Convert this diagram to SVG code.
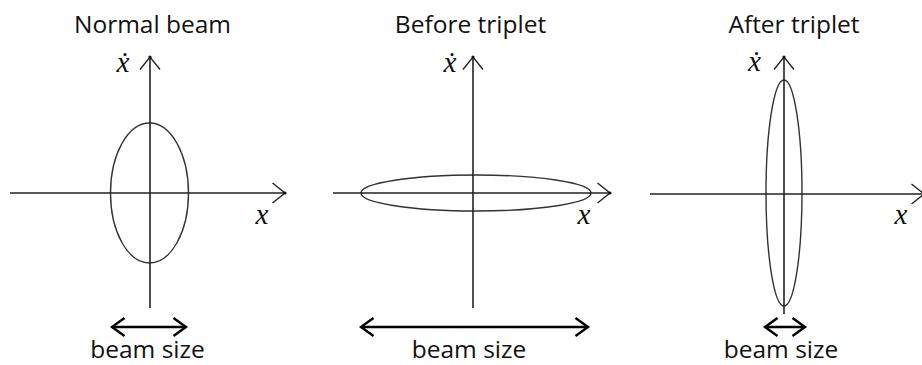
<svg xmlns="http://www.w3.org/2000/svg" width="922" height="365" viewBox="0 0 922 365">
  <style>
    .title { font-family: "Open Sans", "Liberation Sans", sans-serif; font-size: 24.5px; fill: #111; text-anchor: middle; }
    .var { font-family: "Liberation Serif", "DejaVu Serif", serif; font-style: italic; font-size: 29px; fill: #111; text-anchor: middle; }
    .axis { stroke: #222; stroke-width: 1.6; fill: none; marker-end: url(#axisHead); }
    .ell { stroke: #333; stroke-width: 1.4; fill: none; }
    .size { stroke: #000; stroke-width: 2.4; fill: none; marker-start: url(#sizeHead); marker-end: url(#sizeHead); }
  </style>
  <defs>
    <marker id="axisHead" markerUnits="userSpaceOnUse" markerWidth="40" markerHeight="40" refX="0" refY="0" orient="auto" overflow="visible">
      <path d="M-12.5,-10 L0,0 L-12.5,10" fill="none" stroke="#222" stroke-width="1.4"/>
      <circle cx="0" cy="0" r="1.6" fill="#111"/>
    </marker>
    <marker id="sizeHead" markerUnits="userSpaceOnUse" markerWidth="40" markerHeight="40" refX="0" refY="0" orient="auto-start-reverse" overflow="visible">
      <path d="M-12.5,-9 L0,0 L-12.5,9" fill="none" stroke="#000" stroke-width="2.4"/>
    </marker>
  </defs>
  <rect width="922" height="365" fill="#fff"/>

  <g id="normal-beam">
    <text class="title" x="152.5" y="33">Normal beam</text>
    <ellipse class="ell" cx="149.5" cy="193" rx="39" ry="70"/>
    <text class="var" x="123" y="72">ẋ</text>
    <text class="var" x="262" y="224">x</text>
    <text class="title" x="147.5" y="358">beam size</text>
  </g>

  <g id="before-triplet">
    <text class="title" x="470.5" y="33">Before triplet</text>
    <ellipse class="ell" cx="476" cy="193" rx="115" ry="18"/>
    <text class="var" x="450" y="72">ẋ</text>
    <text class="var" x="584" y="224">x</text>
    <text class="title" x="469" y="358">beam size</text>
  </g>

  <g id="after-triplet">
    <text class="title" x="794" y="33">After triplet</text>
    <ellipse class="ell" cx="784" cy="193" rx="18" ry="113"/>
    <text class="var" x="754.5" y="71">ẋ</text>
    <text class="var" x="901" y="224">x</text>
    <text class="title" x="781" y="358">beam size</text>
  </g>

  <g id="connectors">
    <line class="axis" x1="150" y1="308" x2="150" y2="57"/>
    <line class="axis" x1="10" y1="193" x2="285" y2="193"/>
    <line class="size" x1="112" y1="327" x2="186" y2="327"/>

    <line class="axis" x1="473" y1="308" x2="473" y2="57"/>
    <line class="axis" x1="333" y1="193" x2="610" y2="193"/>
    <line class="size" x1="361" y1="327" x2="588" y2="327"/>

    <line class="axis" x1="784" y1="314" x2="784" y2="57"/>
    <line class="axis" x1="650" y1="194" x2="924" y2="194"/>
    <line class="size" x1="765" y1="327" x2="805" y2="327"/>
  </g>
</svg>
